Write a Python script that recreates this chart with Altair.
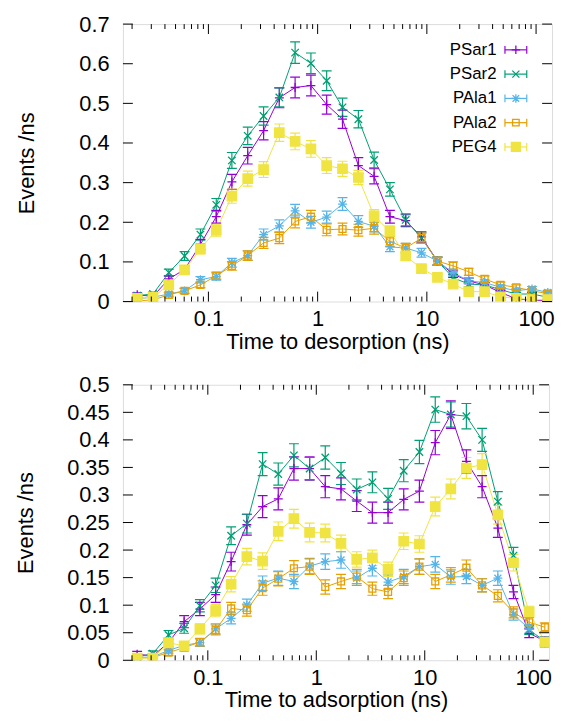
import altair as alt
import pandas as pd

names = ["PSar1", "PSar2", "PAla1", "PAla2", "PEG4"]
colors = ["#9400d3", "#009e73", "#56b4e9", "#e69f00", "#f0e442"]
fills = ["transparent", "transparent", "transparent", "transparent", "#f0e442"]

# bin centres (ns)
t = [0.0223, 0.0311, 0.0434, 0.0605, 0.0845, 0.118, 0.164, 0.229, 0.320, 0.446,
     0.622, 0.868, 1.21, 1.69, 2.36, 3.29, 4.59, 6.40, 8.93, 12.5,
     17.4, 24.2, 33.8, 47.2, 65.8, 91.8, 128]

# ---- top panel: time to desorption ----
des_PSar1 = [0.017, 0.013, 0.057, 0.081, 0.144, 0.214, 0.302, 0.368, 0.431, 0.514,
             0.540, 0.545, 0.497, 0.460, 0.343, 0.316, 0.214, 0.204, 0.163, 0.102,
             0.069, 0.052, 0.042, 0.023, 0.007, 0.003, 0.003]
des_PSar2 = [0.015, 0.019, 0.073, 0.115, 0.169, 0.244, 0.356, 0.418, 0.468, 0.515,
             0.628, 0.601, 0.557, 0.490, 0.460, 0.357, 0.283, 0.206, 0.160, 0.102,
             0.060, 0.044, 0.042, 0.030, 0.019, 0.019, 0.011]
des_PAla1 = [0.007, 0.011, 0.019, 0.027, 0.055, 0.063, 0.098, 0.116, 0.169, 0.191,
             0.229, 0.200, 0.213, 0.246, 0.202, 0.190, 0.138, 0.135, 0.123, 0.102,
             0.073, 0.052, 0.048, 0.036, 0.027, 0.032, 0.023]
des_PAla2 = [0.002, 0.004, 0.017, 0.027, 0.042, 0.065, 0.090, 0.116, 0.148, 0.160,
             0.202, 0.214, 0.181, 0.183, 0.180, 0.185, 0.152, 0.135, 0.160, 0.102,
             0.090, 0.075, 0.057, 0.042, 0.036, 0.027, 0.020]
des_PEG4 = [0.008, 0.011, 0.042, 0.080, 0.133, 0.180, 0.266, 0.310, 0.333, 0.426,
            0.404, 0.385, 0.343, 0.335, 0.313, 0.216, 0.177, 0.115, 0.083, 0.061,
            0.044, 0.025, 0.025, 0.012, 0.008, 0.005, 0.005]

des_err_PSar1 = [0.005, 0.004, 0.008, 0.010, 0.013, 0.016, 0.019, 0.021, 0.023, 0.025,
                 0.026, 0.026, 0.024, 0.023, 0.020, 0.019, 0.016, 0.015, 0.013, 0.010,
                 0.008, 0.007, 0.006, 0.005, 0.003, 0.002, 0.002]
des_err_PSar2 = [0.005, 0.005, 0.009, 0.011, 0.014, 0.016, 0.020, 0.022, 0.023, 0.024,
                 0.027, 0.026, 0.025, 0.023, 0.022, 0.020, 0.017, 0.015, 0.013, 0.010,
                 0.008, 0.007, 0.006, 0.005, 0.004, 0.004, 0.003]
des_err_PAla1 = [0.003, 0.004, 0.005, 0.006, 0.008, 0.009, 0.011, 0.012, 0.014, 0.015,
                 0.016, 0.015, 0.015, 0.016, 0.015, 0.014, 0.012, 0.012, 0.011, 0.010,
                 0.009, 0.007, 0.007, 0.006, 0.005, 0.006, 0.005]
des_err_PAla2 = [0.002, 0.003, 0.005, 0.006, 0.007, 0.009, 0.011, 0.012, 0.014, 0.014,
                 0.016, 0.016, 0.015, 0.015, 0.015, 0.015, 0.013, 0.012, 0.013, 0.010,
                 0.010, 0.009, 0.008, 0.007, 0.006, 0.005, 0.005]
des_err_PEG4 = [0.004, 0.004, 0.007, 0.010, 0.013, 0.015, 0.018, 0.019, 0.020, 0.022,
                0.021, 0.021, 0.020, 0.019, 0.018, 0.016, 0.014, 0.011, 0.009, 0.008,
                0.007, 0.005, 0.005, 0.004, 0.003, 0.003, 0.003]

# ---- bottom panel: time to adsorption ----
ads_PSar1 = [0.011, 0.008, 0.032, 0.070, 0.093, 0.119, 0.179, 0.246, 0.279, 0.293,
             0.348, 0.348, 0.315, 0.311, 0.289, 0.268, 0.268, 0.292, 0.307, 0.395,
             0.446, 0.361, 0.315, 0.240, 0.124, 0.049, 0.035]
ads_PSar2 = [0.006, 0.012, 0.046, 0.058, 0.099, 0.136, 0.226, 0.248, 0.356, 0.338,
             0.372, 0.348, 0.368, 0.339, 0.310, 0.323, 0.293, 0.344, 0.378, 0.455,
             0.446, 0.443, 0.400, 0.288, 0.190, 0.055, 0.035]
ads_PAla1 = [0.005, 0.006, 0.018, 0.027, 0.032, 0.057, 0.076, 0.100, 0.140, 0.149,
             0.143, 0.171, 0.179, 0.182, 0.149, 0.167, 0.142, 0.152, 0.170, 0.174,
             0.151, 0.152, 0.136, 0.149, 0.083, 0.057, 0.031]
ads_PAla2 = [0.004, 0.005, 0.014, 0.023, 0.033, 0.055, 0.094, 0.091, 0.131, 0.148,
             0.167, 0.170, 0.133, 0.143, 0.152, 0.130, 0.124, 0.149, 0.170, 0.143,
             0.155, 0.168, 0.136, 0.117, 0.087, 0.069, 0.060]
ads_PEG4 = [0.004, 0.004, 0.032, 0.026, 0.057, 0.090, 0.138, 0.188, 0.180, 0.234,
            0.257, 0.232, 0.231, 0.212, 0.183, 0.186, 0.165, 0.216, 0.211, 0.279,
            0.311, 0.349, 0.355, 0.264, 0.177, 0.088, 0.033]

ads_err_PSar1 = [0.005, 0.004, 0.008, 0.011, 0.012, 0.014, 0.017, 0.019, 0.020, 0.020,
                 0.021, 0.021, 0.020, 0.020, 0.019, 0.019, 0.019, 0.019, 0.020, 0.022,
                 0.025, 0.021, 0.020, 0.017, 0.012, 0.008, 0.007]
ads_err_PSar2 = [0.004, 0.005, 0.008, 0.009, 0.011, 0.013, 0.016, 0.017, 0.021, 0.020,
                 0.021, 0.020, 0.021, 0.020, 0.019, 0.019, 0.019, 0.020, 0.021, 0.023,
                 0.023, 0.023, 0.021, 0.018, 0.015, 0.008, 0.007]
ads_err_PAla1 = [0.003, 0.003, 0.005, 0.006, 0.007, 0.009, 0.010, 0.011, 0.013, 0.013,
                 0.013, 0.014, 0.014, 0.015, 0.013, 0.014, 0.013, 0.013, 0.014, 0.014,
                 0.013, 0.013, 0.012, 0.013, 0.010, 0.008, 0.007]
ads_err_PAla2 = [0.003, 0.003, 0.005, 0.006, 0.007, 0.009, 0.011, 0.011, 0.013, 0.013,
                 0.014, 0.014, 0.013, 0.013, 0.013, 0.012, 0.012, 0.013, 0.014, 0.013,
                 0.013, 0.014, 0.012, 0.011, 0.010, 0.009, 0.008]
ads_err_PEG4 = [0.003, 0.003, 0.007, 0.006, 0.009, 0.011, 0.014, 0.015, 0.015, 0.017,
                0.017, 0.017, 0.016, 0.015, 0.014, 0.014, 0.013, 0.015, 0.015, 0.017,
                0.018, 0.019, 0.020, 0.017, 0.015, 0.010, 0.007]

x_major = [0.1, 1, 10, 100]
x_minor = [0.02, 0.03, 0.04, 0.05, 0.06, 0.07, 0.08, 0.09,
           0.2, 0.3, 0.4, 0.5, 0.6, 0.7, 0.8, 0.9,
           2, 3, 4, 5, 6, 7, 8, 9,
           20, 30, 40, 50, 60, 70, 80, 90]
top_yticks = [0, 0.1, 0.2, 0.3, 0.4, 0.5, 0.6, 0.7]
bot_yticks = [0, 0.05, 0.1, 0.15, 0.2, 0.25, 0.3, 0.35, 0.4, 0.45, 0.5]

FONT = "Liberation Sans"
FS = 22

marker_paths = [
    "M-0.9,0H0.9M0,-0.9V0.9",
    "M-0.75,-0.75L0.75,0.75M-0.75,0.75L0.75,-0.75",
    "M-0.9,0H0.9M0,-0.9V0.9M-0.7,-0.7L0.7,0.7M-0.7,0.7L0.7,-0.7",
    "M-0.7,-0.7H0.7V0.7H-0.7Z",
    "M-0.95,-0.95H0.95V0.95H-0.95Z",
]


def make_df(vals, errs):
    rows = []
    for name in names:
        for ti, v, e in zip(t, vals[name], errs[name]):
            rows.append({"t": ti, "value": v, "lo": v - e, "hi": v + e, "series": name})
    return pd.DataFrame(rows)


des_df = make_df(
    {"PSar1": des_PSar1, "PSar2": des_PSar2, "PAla1": des_PAla1, "PAla2": des_PAla2, "PEG4": des_PEG4},
    {"PSar1": des_err_PSar1, "PSar2": des_err_PSar2, "PAla1": des_err_PAla1, "PAla2": des_err_PAla2, "PEG4": des_err_PEG4},
)
ads_df = make_df(
    {"PSar1": ads_PSar1, "PSar2": ads_PSar2, "PAla1": ads_PAla1, "PAla2": ads_PAla2, "PEG4": ads_PEG4},
    {"PSar1": ads_err_PSar1, "PSar2": ads_err_PSar2, "PAla1": ads_err_PAla1, "PAla2": ads_err_PAla2, "PEG4": ads_err_PEG4},
)


def stroke_enc():
    return alt.Stroke("series:N", scale=alt.Scale(domain=names, range=colors), legend=None)


def panel(df, width, height, ymax, yticks, xtitle, ytitle_pad, with_legend):
    xs = alt.Scale(type="log", domain=[0.0165, 140], nice=False)
    ys = alt.Scale(domain=[0, ymax], nice=False, zero=False)
    xaxis = alt.Axis(values=x_major, format="~g", ticks=False, domain=False, grid=False,
                     labelFontSize=FS, labelFont=FONT, labelColor="black", labelPadding=7,
                     labelFlush=False, labelOverlap=False,
                     title=xtitle, titleFontSize=FS, titleFont=FONT, titleFontWeight="normal",
                     titleColor="black", titlePadding=2)
    yaxis = alt.Axis(values=yticks, format="~g", ticks=False, domain=False, grid=False,
                     labelFontSize=FS, labelFont=FONT, labelColor="black", labelPadding=14,
                     labelFlush=False, labelOverlap=False,
                     title="Events /ns", titleFontSize=FS, titleFont=FONT, titleFontWeight="normal",
                     titleColor="black", titlePadding=ytitle_pad)

    def X(field="t"):
        return alt.X(f"{field}:Q", scale=xs, axis=xaxis)

    def Y(field="value"):
        return alt.Y(f"{field}:Q", scale=ys, axis=yaxis)

    base = alt.Chart(df)
    lines = base.mark_line(strokeWidth=1, clip=True).encode(x=X(), y=Y(), stroke=stroke_enc(), detail="series:N")
    bars = base.mark_rule(strokeWidth=1.2, clip=True).encode(x=X(), y=Y("lo"), y2="hi:Q", stroke=stroke_enc())
    cap_lo = base.mark_point(shape="M-1,0H1", size=100, strokeWidth=1.2, opacity=1, filled=False,
                             clip=True).encode(x=X(), y=Y("lo"), stroke=stroke_enc())
    cap_hi = base.mark_point(shape="M-1,0H1", size=100, strokeWidth=1.2, opacity=1, filled=False,
                             clip=True).encode(x=X(), y=Y("hi"), stroke=stroke_enc())
    markers = []
    for name, c, f, p in zip(names, colors, fills, marker_paths):
        markers.append(
            base.transform_filter(alt.datum.series == name)
            .mark_point(shape=p, size=100, strokeWidth=1.3, opacity=1,
                        filled=False, clip=True, stroke=c, fill=f)
            .encode(x=X(), y=Y())
        )

    tick_major = pd.DataFrame({"v": x_major})
    tick_minor = pd.DataFrame({"v": x_minor})
    ytk = pd.DataFrame({"v": yticks})
    tick_layers = []
    for d, L in ((tick_major, 10), (tick_minor, 5)):
        tick_layers.append(alt.Chart(d).mark_rule(color="black", strokeWidth=1).encode(
            x=X("v"), y=alt.value(height), y2=alt.value(height - L)))
        tick_layers.append(alt.Chart(d).mark_rule(color="black", strokeWidth=1).encode(
            x=X("v"), y=alt.value(0), y2=alt.value(L)))
    tick_layers.append(alt.Chart(ytk).mark_rule(color="black", strokeWidth=1).encode(
        y=Y("v"), x=alt.value(0), x2=alt.value(10)))
    tick_layers.append(alt.Chart(ytk).mark_rule(color="black", strokeWidth=1).encode(
        y=Y("v"), x=alt.value(width), x2=alt.value(width - 10)))

    main = alt.layer(lines, bars, cap_lo, cap_hi, *markers, *tick_layers)
    if not with_legend:
        return main.properties(width=width, height=height)

    # key (legend) in the top-right corner, rows placed by a point scale
    key_df = pd.DataFrame({"series": names})
    LY = alt.Y("series:N", scale=alt.Scale(type="point", domain=names, range=[26, 124], padding=0),
               axis=None)
    kb = alt.Chart(key_df)
    key_text = kb.mark_text(align="right", baseline="middle", fontSize=17, font=FONT,
                            color="black").encode(y=LY, x=alt.value(377), text="series:N")
    key_bar = kb.mark_rule(strokeWidth=1.2).encode(
        y=LY, x=alt.value(385.5), x2=alt.value(407.5), stroke=stroke_enc())
    key_cap_l = kb.mark_point(shape="M0,-1V1", size=64, strokeWidth=1.2, opacity=1, filled=False).encode(
        y=LY, x=alt.value(385.5), stroke=stroke_enc())
    key_cap_r = kb.mark_point(shape="M0,-1V1", size=64, strokeWidth=1.2, opacity=1, filled=False).encode(
        y=LY, x=alt.value(407.5), stroke=stroke_enc())
    key_mark = kb.mark_point(size=90, strokeWidth=1.3, opacity=1, filled=False).encode(
        y=LY, x=alt.value(396.5), stroke=stroke_enc(),
        shape=alt.Shape("series:N", scale=alt.Scale(domain=names, range=marker_paths), legend=None),
        fill=alt.Fill("series:N", scale=alt.Scale(domain=names, range=fills), legend=None))
    key = alt.layer(key_text, key_bar, key_cap_l, key_cap_r, key_mark)
    return alt.layer(main, key).resolve_scale(y="independent").properties(width=width, height=height)


top = panel(des_df, 433, 280, 0.7, top_yticks, "Time to desorption (ns)", 41, True)
bottom = panel(ads_df, 430, 278, 0.5, bot_yticks, "Time to adsorption (ns)", 29, False)

chart = alt.vconcat(top, bottom, spacing=20).resolve_scale(
    stroke="independent"
).properties(
    padding={"left": 6, "top": 1, "right": 0, "bottom": 0}
).configure_view(stroke="black", strokeWidth=1.5).configure(background="white")

chart.save("out.html", embed_options={"renderer": "svg", "actions": False})
